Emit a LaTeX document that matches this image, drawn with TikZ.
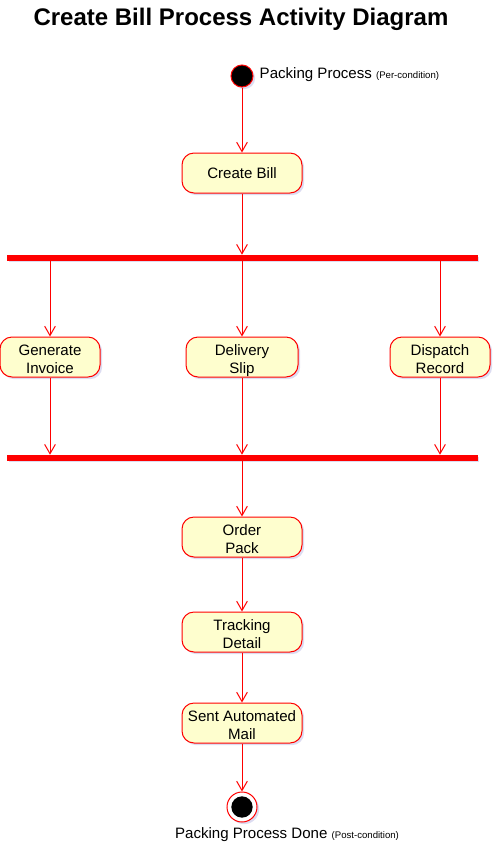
\documentclass[tikz,border=0pt]{standalone}
\usepackage{fontspec}
\setmainfont{Liberation Sans}
\usetikzlibrary{arrows.meta,shadows}

\definecolor{actfill}{HTML}{FEFECE}
\definecolor{umlred}{HTML}{FF0000}

% strut that pushes two-line activity text down to the box centre
\newcommand{\actstrut}{\rule{0pt}{14pt}}

\tikzset{
    shade/.style={drop shadow={fill=black!40!blue!30, opacity=0.45, shadow xshift=1.6pt, shadow yshift=-1.6pt}},
    activity/.style={draw=umlred, fill=actfill, rounded corners=9pt, minimum width=90pt,
        minimum height=30pt, inner sep=2pt, align=center, line width=0.75pt,
        font=\fontsize{11.3}{13.5}\selectfont, shade},
    twoline/.style={inner ysep=0pt},
    syncbar/.style={draw=umlred, fill=umlred, minimum width=352.5pt, minimum height=3.75pt,
        inner sep=0pt, shade},
    flow/.style={draw=umlred, line width=0.75pt, -{Straight Barb[length=7pt, width=8pt]}},
}

\begin{document}
\begin{tikzpicture}[x=0.75pt, y=-0.75pt]
    \useasboundingbox (0,0) rectangle (502,854);

    % Title
    \node (title) at (241,19) {\fontsize{18}{22}\selectfont\bfseries Create Bill Process Activity Diagram};

    % Start and the first activity
    \node[circle, draw=umlred, fill=black, minimum size=16.5pt, inner sep=0pt, line width=0.75pt, shade] (start) at (242,76) {};
    \node[anchor=west, font=\fontsize{11.3}{13}\selectfont] (startlabel) at (255,75) {Packing Process {\fontsize{7.2}{8}\selectfont (Per-condition)}};
    \node[activity] (createbill) at (242,173) {Create Bill};

    % Fork
    \node[syncbar] (fork) at (242,257.5) {};
    \node[activity, twoline, minimum width=75pt] (invoice) at (50,357) {\actstrut Generate\\Invoice\vphantom{p}};
    \node[activity, twoline, minimum width=84pt] (slip) at (242,357) {\actstrut Delivery\\Slip};
    \node[activity, twoline, minimum width=75pt] (dispatch) at (440,357) {\actstrut Dispatch\\Record\vphantom{p}};

    % Join
    \node[syncbar] (join) at (242,457.5) {};

    % Remaining activities
    \node[activity, twoline] (orderpack) at (242,537) {\actstrut Order\\Pack\vphantom{p}};
    \node[activity, twoline] (tracking) at (242,632) {\actstrut Tracking\\Detail\vphantom{p}};
    \node[activity, twoline] (mail) at (242,723) {\actstrut Sent Automated\\Mail\vphantom{p}};

    % End
    \node[circle, draw=umlred, fill=white, minimum size=22.5pt, inner sep=0pt, line width=0.75pt, shade] (stop) at (242,807) {};
    \node[circle, fill=black, minimum size=16pt, inner sep=0pt] (stopdot) at (stop) {};
    \node[font=\fontsize{11.3}{13}\selectfont] (stoplabel) at (287,835) {Packing Process Done {\fontsize{7.2}{8}\selectfont (Post-condition)}};

    % Flows
    \draw[flow] (start) -- (createbill);
    \draw[flow] (createbill) -- (fork);
    \draw[flow] (invoice |- fork.south) -- (invoice);
    \draw[flow] (fork) -- (slip);
    \draw[flow] (dispatch |- fork.south) -- (dispatch);
    \draw[flow] (invoice) -- (invoice |- join.north);
    \draw[flow] (slip) -- (join);
    \draw[flow] (dispatch) -- (dispatch |- join.north);
    \draw[flow] (join) -- (orderpack);
    \draw[flow] (orderpack) -- (tracking);
    \draw[flow] (tracking) -- (mail);
    \draw[flow] (mail) -- (stop);
\end{tikzpicture}
\end{document}
